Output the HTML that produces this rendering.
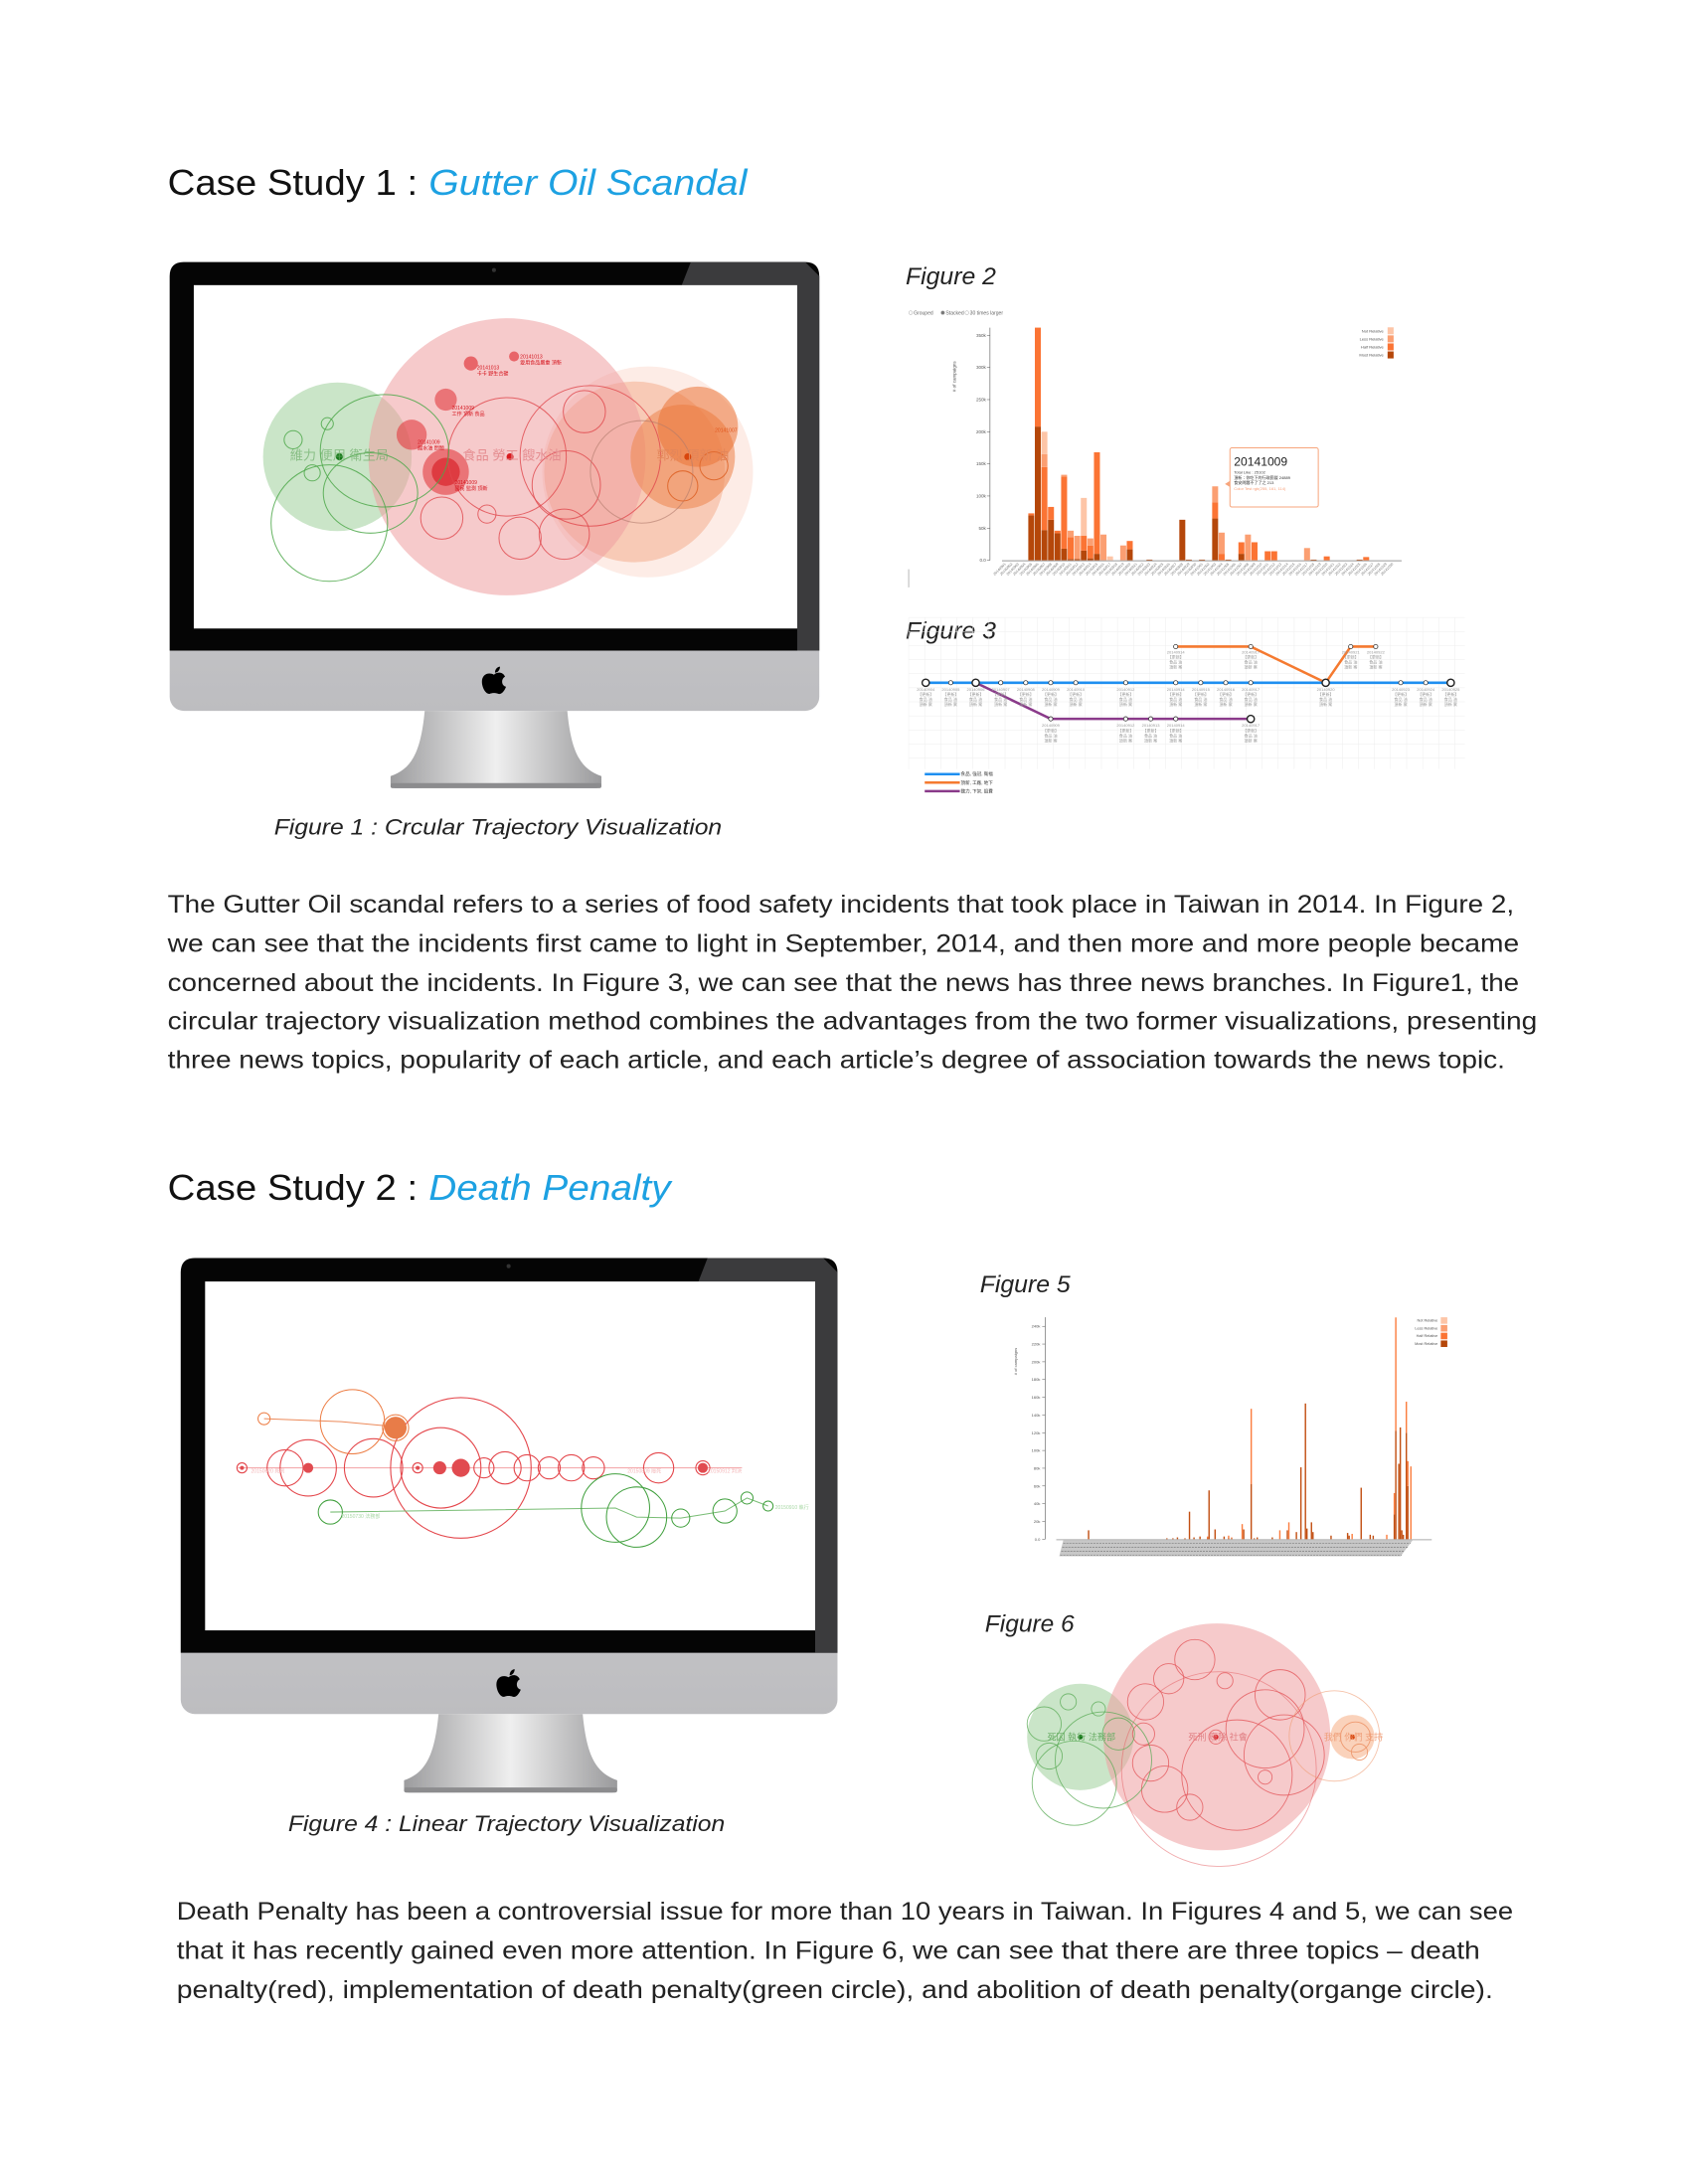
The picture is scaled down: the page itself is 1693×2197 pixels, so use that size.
<!DOCTYPE html>
<html><head><meta charset="utf-8"><title>Case Studies</title>
<style>
html,body{margin:0;padding:0;background:#fff;}
svg{display:block;}
text{font-family:"Liberation Sans","Noto Sans CJK TC",sans-serif;}
</style></head>
<body>
<svg id="page" xmlns="http://www.w3.org/2000/svg" width="1693" height="2197" viewBox="0 0 1693 2197">
<defs>
<linearGradient id="chinG" x1="0" y1="0" x2="0" y2="1"><stop offset="0" stop-color="#d9d9db"/><stop offset="1" stop-color="#bdbdc0"/></linearGradient>
<linearGradient id="standG" x1="0" y1="0" x2="1" y2="0"><stop offset="0" stop-color="#9c9c9e"/><stop offset="0.5" stop-color="#efefef"/><stop offset="1" stop-color="#9a9a9c"/></linearGradient>
</defs>
<g transform="scale(1.01)">

<!-- Headings -->
<text x="167" y="194" font-size="36" fill="#111" textLength="249" lengthAdjust="spacingAndGlyphs">Case Study 1 :</text>
<text x="427" y="194" font-size="36" font-style="italic" fill="#1da1e2" textLength="317" lengthAdjust="spacingAndGlyphs">Gutter Oil Scandal</text>
<text x="167" y="1195" font-size="36" fill="#111" textLength="249" lengthAdjust="spacingAndGlyphs">Case Study 2 :</text>
<text x="427" y="1195" font-size="36" font-style="italic" fill="#1da1e2" textLength="241" lengthAdjust="spacingAndGlyphs">Death Penalty</text>

<!-- Monitor 1 -->
<g transform="translate(169,261)">
  <rect x="0" y="0" width="647" height="447" rx="14" fill="url(#chinG)"/>
  <path d="M0,387 L0,14 Q0,0 14,0 L633,0 Q647,0 647,14 L647,387 Z" fill="#050505"/>
  <polygon points="519,0 633,0 647,14 647,387 625,387 625,23 510,23" fill="#3b3b3d"/>
  <circle cx="323" cy="8" r="2" fill="#333"/>
  <rect x="24" y="23" width="601" height="342" fill="#fff"/>
  <path transform="translate(323,416)" d="M0,-5 C3,-8 9,-8 11,-3 C7,-1 7,6 12,7 C10,12 7,15 4,14 C2,13 -2,13 -4,14 C-8,15 -12,8 -12,2 C-12,-5 -6,-8 0,-5 Z M1,-7 C1,-11 4,-13 6,-13 C6,-10 4,-7 1,-7 Z" fill="#000"/>
  <path d="M254,447 L396,447 C400,490 410,505 430,512 L430,520 Q430,524 425,524 L225,524 Q220,524 220,520 L220,512 C240,505 250,490 254,447 Z" fill="url(#standG)"/>
  <rect x="220" y="519" width="210" height="5" rx="2" fill="#8c8c8e"/>
</g>

<!-- Figure 1 circles -->
<g>
  <circle cx="336" cy="455" r="74" fill="#9fd09a" fill-opacity="0.55"/>
  <circle cx="645" cy="470" r="105" fill="#f9c9b8" fill-opacity="0.35"/>
  <circle cx="632" cy="470" r="90" fill="#f2a27d" fill-opacity="0.45"/>
  <circle cx="505" cy="455" r="138" fill="#ee9ea1" fill-opacity="0.55"/>
  <circle cx="680" cy="455" r="52" fill="#ef8a55" fill-opacity="0.6"/>
  <circle cx="695" cy="425" r="40" fill="#eb7436" fill-opacity="0.55"/>
  <circle cx="444" cy="470" r="23" fill="#e23a3f" fill-opacity="0.6"/>
  <circle cx="444" cy="470" r="14" fill="#d9242b" fill-opacity="0.7"/>
  <circle cx="410" cy="433" r="15" fill="#e23a3f" fill-opacity="0.6"/>
  <circle cx="444" cy="398" r="11" fill="#e23a3f" fill-opacity="0.6"/>
  <circle cx="469" cy="362" r="7" fill="#e23a3f" fill-opacity="0.7"/>
  <circle cx="512" cy="355" r="5" fill="#e23a3f" fill-opacity="0.7"/>
  <g fill="none" stroke="#e0474c" stroke-width="1" stroke-opacity="0.8">
    <circle cx="505" cy="455" r="59"/>
    <circle cx="588" cy="454" r="70"/>
    <circle cx="582" cy="410" r="21"/>
    <circle cx="564" cy="483" r="34"/>
    <circle cx="440" cy="516" r="21"/>
    <circle cx="485" cy="512" r="9"/>
    <circle cx="518" cy="536" r="21"/>
    <circle cx="562" cy="532" r="25"/>
  </g>
  <circle cx="639" cy="470" r="51" fill="none" stroke="#b07a6a" stroke-opacity="0.6"/>
  <circle cx="680" cy="484" r="15" fill="none" stroke="#e06a30"/>
  <circle cx="711" cy="464" r="14" fill="none" stroke="#e06a30"/>
  <g fill="none" stroke="#4ea84a" stroke-width="1" stroke-opacity="0.85">
    <ellipse cx="383" cy="449" rx="64" ry="56"/>
    <circle cx="328" cy="521" r="58"/>
    <ellipse cx="369" cy="491" rx="47" ry="40"/>
    <circle cx="311" cy="471" r="8"/>
    <circle cx="292" cy="438" r="9"/>
    <circle cx="326" cy="422" r="6"/>
  </g>
  <circle cx="338" cy="455" r="3.5" fill="#17791a"/>
  <circle cx="508" cy="455" r="3.5" fill="#d91a1f"/>
  <circle cx="685" cy="455" r="3.5" fill="#d8460d"/>
  <text x="338" y="458" font-size="13" fill="#6cae68" fill-opacity="0.7" text-anchor="middle">維力 便用 衛生局</text>
  <text x="510" y="458" font-size="13" fill="#e58d90" text-anchor="middle">食品 勞工 餿水油</text>
  <text x="690" y="458" font-size="13" fill="#e3865a" text-anchor="middle">郭烈 頂新 油</text>
  <g font-size="5" fill="#d4111a">
    <text x="475" y="368">20141013</text>
    <text x="475" y="374">卡卡 野生合碳</text>
    <text x="518" y="357">20141013</text>
    <text x="518" y="363">愛用食品嚴重 頂新</text>
    <text x="450" y="408">20141009</text>
    <text x="450" y="414">工作 頂新 食品</text>
    <text x="416" y="442">20141009</text>
    <text x="416" y="448">餿水油 問題</text>
    <text x="453" y="482">20141009</text>
    <text x="453" y="488">國民 監測 頂新</text>
    <text x="712" y="430" fill="#e0541b">20141007</text>
  </g>
</g>

<text x="273" y="831" font-size="22" font-style="italic" fill="#222" textLength="446" lengthAdjust="spacingAndGlyphs">Figure 1 : Crcular Trajectory Visualization</text>

<!-- Figure 2 -->
<text x="902" y="283" font-size="24" font-style="italic" fill="#222" textLength="90" lengthAdjust="spacingAndGlyphs">Figure 2</text>
<g id="fig2" transform="translate(-8,0)"></g>
<!-- Figure 3 -->
<text x="902" y="636" font-size="24" font-style="italic" fill="#222" textLength="90" lengthAdjust="spacingAndGlyphs">Figure 3</text>
<g id="fig3" transform="translate(-8,0)"></g>

<!-- Paragraph 1 -->
<g font-size="25" fill="#222">
<text x="167" y="909" textLength="1341" lengthAdjust="spacingAndGlyphs">The Gutter Oil scandal refers to a series of food safety incidents that took place in Taiwan in 2014. In Figure 2,</text>
<text x="167" y="948" textLength="1346" lengthAdjust="spacingAndGlyphs">we can see that the incidents first came to light in September, 2014, and then more and more people became</text>
<text x="167" y="987" textLength="1346" lengthAdjust="spacingAndGlyphs">concerned about the incidents. In Figure 3, we can see that the news has three news branches. In Figure1, the</text>
<text x="167" y="1025" textLength="1364" lengthAdjust="spacingAndGlyphs">circular trajectory visualization method combines the advantages from the two former visualizations, presenting</text>
<text x="167" y="1064" textLength="1332" lengthAdjust="spacingAndGlyphs">three news topics, popularity of each article, and each article’s degree of association towards the news topic.</text>
</g>

<!-- Monitor 2 -->
<g transform="translate(180,1253) scale(1.011,1.016)">
  <rect x="0" y="0" width="647" height="447" rx="14" fill="url(#chinG)"/>
  <path d="M0,387 L0,14 Q0,0 14,0 L633,0 Q647,0 647,14 L647,387 Z" fill="#050505"/>
  <polygon points="519,0 633,0 647,14 647,387 625,387 625,23 510,23" fill="#3b3b3d"/>
  <circle cx="323" cy="8" r="2" fill="#333"/>
  <rect x="24" y="23" width="601" height="342" fill="#fff"/>
  <path transform="translate(323,416)" d="M0,-5 C3,-8 9,-8 11,-3 C7,-1 7,6 12,7 C10,12 7,15 4,14 C2,13 -2,13 -4,14 C-8,15 -12,8 -12,2 C-12,-5 -6,-8 0,-5 Z M1,-7 C1,-11 4,-13 6,-13 C6,-10 4,-7 1,-7 Z" fill="#000"/>
  <path d="M254,447 L396,447 C400,490 410,505 430,512 L430,520 Q430,524 425,524 L225,524 Q220,524 220,520 L220,512 C240,505 250,490 254,447 Z" fill="url(#standG)"/>
  <rect x="220" y="519" width="210" height="5" rx="2" fill="#8c8c8e"/>
</g>

<!-- Figure 4 linear trajectory -->
<g fill="none">
  <line x1="237" y1="1462" x2="739" y2="1462" stroke="#f2a0a3" stroke-width="1"/>
  <g stroke="#e4474c" stroke-width="1.1">
    <circle cx="241" cy="1462" r="5"/>
    <circle cx="284" cy="1462" r="18"/>
    <circle cx="307" cy="1462" r="28"/>
    <circle cx="372" cy="1462" r="29"/>
    <circle cx="416" cy="1462" r="5"/>
    <circle cx="439" cy="1462" r="40"/>
    <circle cx="459" cy="1462" r="70"/>
    <circle cx="482" cy="1462" r="10"/>
    <circle cx="503" cy="1462" r="16"/>
    <circle cx="525" cy="1462" r="13"/>
    <circle cx="547" cy="1462" r="11"/>
    <circle cx="569" cy="1462" r="13"/>
    <circle cx="591" cy="1462" r="11"/>
    <circle cx="656" cy="1462" r="15"/>
    <circle cx="700" cy="1462" r="7"/>
  </g>
  <g fill="#e14b50">
    <circle cx="241" cy="1462" r="2"/>
    <circle cx="307" cy="1462" r="5"/>
    <circle cx="438" cy="1462" r="6.5"/>
    <circle cx="459" cy="1462" r="9"/>
    <circle cx="700" cy="1462" r="5"/>
    <circle cx="416" cy="1462" r="2"/>
  </g>
  <path d="M263,1413 L340,1416 L394,1421" stroke="#ec8a5a" stroke-width="1"/>
  <circle cx="263" cy="1413" r="6" stroke="#ec7a40"/>
  <circle cx="351" cy="1416" r="32" stroke="#ec7a40"/>
  <circle cx="394" cy="1422" r="13" stroke="#ec7a40"/>
  <circle cx="394" cy="1422" r="11" fill="#e87c48"/>
  <path d="M329,1506 L613,1502 L634,1511 L678,1512 L722,1505 L744,1492 L765,1500" stroke="#79bd75" stroke-width="1"/>
  <g stroke="#3f9f3c" stroke-width="1">
    <circle cx="329" cy="1506" r="12"/>
    <circle cx="613" cy="1502" r="34"/>
    <circle cx="634" cy="1511" r="30"/>
    <circle cx="678" cy="1512" r="9"/>
    <circle cx="722" cy="1505" r="12"/>
    <circle cx="744" cy="1492" r="6"/>
    <circle cx="765" cy="1500" r="5"/>
  </g>
  <g font-size="5" stroke="none">
    <text x="250" y="1467" fill="#f3b6b8">20150620 死刑</text>
    <text x="625" y="1467" fill="#f3b6b8">20150809 廢死</text>
    <text x="705" y="1467" fill="#f3b6b8">20150912 判決</text>
    <text x="772" y="1503" fill="#a9d8a6">20150910 執行</text>
    <text x="340" y="1512" fill="#a9d8a6">20150730 法務部</text>
  </g>
</g>
<text x="287" y="1824" font-size="22" font-style="italic" fill="#222" textLength="435" lengthAdjust="spacingAndGlyphs">Figure 4 : Linear Trajectory Visualization</text>

<!-- Figure 5 -->
<text x="976" y="1287" font-size="24" font-style="italic" fill="#222" textLength="90" lengthAdjust="spacingAndGlyphs">Figure 5</text>
<g id="fig5" transform="translate(-13,-4)"></g>

<!-- Figure 6 -->
<text x="981" y="1625" font-size="24" font-style="italic" fill="#222" textLength="89" lengthAdjust="spacingAndGlyphs">Figure 6</text>
<g fill="none" transform="translate(-13,-10)">
  <circle cx="1089" cy="1740" r="53" fill="#9fd09a" fill-opacity="0.55"/>
  <circle cx="1225" cy="1740" r="113" fill="#ee9ea1" fill-opacity="0.55"/>
  <circle cx="1360" cy="1740" r="22" fill="#f6b48e" fill-opacity="0.6"/>
  <g stroke="#e4575b" stroke-width="0.9" stroke-opacity="0.8">
    <circle cx="1203" cy="1663" r="20"/>
    <circle cx="1177" cy="1682" r="15"/>
    <circle cx="1233" cy="1684" r="8"/>
    <circle cx="1154" cy="1705" r="18"/>
    <circle cx="1152" cy="1737" r="11"/>
    <circle cx="1159" cy="1766" r="18"/>
    <circle cx="1173" cy="1792" r="23"/>
    <circle cx="1198" cy="1810" r="13"/>
    <circle cx="1224" cy="1740" r="7"/>
    <circle cx="1288" cy="1698" r="25"/>
    <circle cx="1273" cy="1732" r="39"/>
    <circle cx="1292" cy="1758" r="40"/>
    <circle cx="1245" cy="1778" r="55"/>
    <circle cx="1273" cy="1780" r="7"/>
    <circle cx="1227" cy="1772" r="97" stroke-opacity="0.5"/>
  </g>
  <g stroke="#ee9a70" stroke-width="0.9">
    <circle cx="1342" cy="1739" r="45" stroke-opacity="0.6"/>
    <circle cx="1367" cy="1755" r="8"/>
    <circle cx="1363" cy="1740" r="15"/>
  </g>
  <g stroke="#56a852" stroke-width="0.9" stroke-opacity="0.75">
    <circle cx="1077" cy="1705" r="8"/>
    <circle cx="1107" cy="1712" r="7"/>
    <circle cx="1053" cy="1727" r="17"/>
    <circle cx="1127" cy="1737" r="16"/>
    <circle cx="1058" cy="1759" r="13"/>
    <circle cx="1083" cy="1786" r="42"/>
    <circle cx="1112" cy="1763" r="48"/>
  </g>
  <circle cx="1089" cy="1740" r="2.5" fill="#17791a"/>
  <circle cx="1224" cy="1740" r="2.5" fill="#d91a1f"/>
  <circle cx="1360" cy="1740" r="2.5" fill="#d8460d"/>
  <text x="1090" y="1743" font-size="9" fill="#6cae68" text-anchor="middle">死囚 執行 法務部</text>
  <text x="1226" y="1743" font-size="9" fill="#e07f83" text-anchor="middle">死刑 廢除 社會</text>
  <text x="1361" y="1743" font-size="9" fill="#ef9e78" text-anchor="middle">我們 你們 支持</text>
</g>

<!-- Paragraph 2 -->
<g font-size="25" fill="#222">
<text x="176" y="1912" textLength="1331" lengthAdjust="spacingAndGlyphs">Death Penalty has been a controversial issue for more than 10 years in Taiwan. In Figures 4 and 5, we can see</text>
<text x="176" y="1951" textLength="1298" lengthAdjust="spacingAndGlyphs">that it has recently gained even more attention. In Figure 6, we can see that there are three topics – death</text>
<text x="176" y="1990" textLength="1311" lengthAdjust="spacingAndGlyphs">penalty(red), implementation of death penalty(green circle), and abolition of death penalty(organge circle).</text>
</g>
</g>
</svg>

<script>
// ---------- Figure 2 data (values in thousands) ----------
const fig2Most = [0,0,0,0,70,208,47,63,42,18, 2,2,15,3,10,0,0,0,0,17, 0,0,1,0,0,0,0,63,1,0, 1,0,65,0,1,0,10,0,0,0, 0,0,0,0,0,0,0,1,0,0, 0,0,0,0,1,0,0,0,0,0];
const fig2Half = [0,0,0,0,3,154,98,20,4,112, 34,0,23,20,158,0,0,0,0,13, 0,0,0,0,0,0,0,0,0,0, 0,0,25,10,0,0,18,0,28,0, 14,14,0,0,0,0,0,0,0,6, 0,0,0,0,0,5,0,0,0,0];
const fig2Less = [0,0,0,0,0,0,20,0,0,3, 10,36,0,11,0,40,0,0,23,0, 0,0,0,0,0,0,0,0,0,0, 0,0,25,33,0,0,0,40,0,0, 0,0,0,0,0,0,19,0,0,0, 0,0,0,0,0,0,0,0,0,0];
const fig2Not  = [0,0,0,0,0,0,35,0,0,0, 0,0,59,0,0,0,6,0,0,0, 0,0,0,0,0,0,0,0,0,0, 0,0,0,0,0,0,0,0,0,0, 0,0,0,0,0,0,0,0,0,0, 0,0,0,0,0,0,0,0,0,0];
const fig2Ticks = [0,50,100,150,200,250,300,350];
const fig2TickLabels = ['0.0','50k','100k','150k','200k','250k','300k','350k'];
const fig2Legend = ['Not Relative','Less Relative','Half Relative','Most Relative'];
const fig2Categories = ['20140901','20140902','20140903','20140904','20140905','20140906','20140907','20140908','20140909','20140910','20140911','20140912','20140913','20140914','20140915','20140916','20140917','20140918','20140919','20140920','20140921','20140922','20140923','20140924','20140925','20140926','20140927','20140928','20140929','20140930','20141001','20141002','20141003','20141004','20141005','20141006','20141007','20141008','20141009','20141010','20141011','20141012','20141013','20141014','20141015','20141016','20141017','20141018','20141019','20141020','20141021','20141022','20141023','20141024','20141025','20141026','20141027','20141028','20141029','20141030'];

// ---------- Figure 3 data ----------
const fig3BlueNodes = [0,1,2,3,4,5,6,8,10,11,12,13,16,19,20,21];
const fig3OrangeNodes = [10,13,16,17,18];
const fig3OrangeLevels = [1,1,0,1,1];
const fig3PurpleNodes = [2,5,8,9,10,13];
const fig3PurpleLevels = [0,-1,-1,-1,-1,-1];
const fig3BigNodes = [0,2,16,21];
const fig3Legend = ['食品, 強冠, 衛福','頂新, 工廠, 地下','魏力, 下架, 退費'];

// ---------- Figure 5 data (values in thousands) ----------
const fig5Index = [21,73,77,80,85,88,91,95,100,101,105,111,114,116,123,124,129,131,133,143,148,153,154,159,162,165,166,169,170,182,193,194,196,202,208,210,219,224,225,227,228,229,230,232,233,235];
const fig5Most = [10,1,1,2,1,31,2,3,1,55,11,3,1,1,0,11,62,1,2,2,0,10,0,8,81,153,12,19,8,4,7,4,0,58,5,4,0,28,122,85,126,10,5,120,60,0];
const fig5Rest = [0,0,0,0,0,0,0,0,2,0,0,0,3,1,17,0,85,0,0,0,10,0,19,0,0,0,0,0,0,0,0,0,6,0,0,0,5,24,128,0,0,0,0,35,28,82];
const fig5Ticks = [0,20,40,60,80,100,120,140,160,180,200,220,240];

const NS = 'http://www.w3.org/2000/svg';
function mk(tag, attrs, parent){const e=document.createElementNS(NS,tag);for(const k in attrs)e.setAttribute(k,attrs[k]);parent.appendChild(e);return e;}

// ===== Figure 2 =====
(function(){
  const g = document.getElementById('fig2');
  const x0 = 1006, step = 6.54, base = 558, kPer = 32/50;
  const xS = i => x0 + i*step;
  const yS = v => base - v*kPer;
  const colors = ['#b5470a','#fb7434','#fb9f72','#fdc5a7'];
  const series = [fig2Most, fig2Half, fig2Less, fig2Not];
  const radios = ['Grouped','Stacked','30 times larger'];
  let rx = 915;
  radios.forEach((r,i)=>{
    const c = mk('circle',{cx:rx,cy:311.5,r:1.8,fill:i==1?'#777':'none',stroke:'#aaa','stroke-width':0.5},g);
    
    
    const t = mk('text',{x:rx+3,y:313.5,'font-size':5,fill:'#666'},g);
    
    
    t.textContent = r; rx += [32,24,40][i];
  });
  const ax = mk('line',{x1:994,y1:yS(362),x2:994,y2:base,stroke:'#555','stroke-width':0.6},g);
  
  
  const xa = mk('line',{x1:1006,y1:base+0.5,x2:1404,y2:base+0.5,stroke:'#999','stroke-width':1},g);
  
  
  const side = mk('line',{x1:913,y1:567,x2:913,y2:585,stroke:'#888','stroke-width':0.6},g);
  
  
  fig2Ticks.forEach((v,i)=>{
    const tk = mk('line',{x1:991,y1:yS(v),x2:994,y2:yS(v),stroke:'#555','stroke-width':0.5},g);
    
    
    const tl = mk('text',{x:990,y:yS(v)+1.5,'font-size':4.5,fill:'#555','text-anchor':'end'},g);
    
    
    tl.textContent = fig2TickLabels[i];
  });
  const yt = mk('text',{x:0,y:0,'font-size':4.5,fill:'#555','text-anchor':'middle',transform:'translate(960,375) rotate(-90)'},g);
  
  
  yt.textContent = '# of campaigns';
  fig2Categories.forEach((c,i)=>{
    let acc = 0;
    series.forEach((s,k)=>{
      const v = s[i]; if(!v) return;
      const r = mk('rect',{x:xS(i),y:yS(acc+v),width:step-0.6,height:v*kPer,fill:colors[k]},g);
      
      
      acc += v;
    });
    const lab = mk('text',{x:0,y:0,'font-size':3.6,fill:'#777','text-anchor':'end',transform:`translate(${xS(i)+4},${base+4}) rotate(-45)`},g);
    
    
    lab.textContent = c;
  });
  fig2Legend.forEach((l,i)=>{
    const y = 326 + i*8;
    const sw = mk('rect',{x:1390,y:y,width:6,height:7,fill:colors[3-i]},g);
    
    
    const t = mk('text',{x:1386,y:y+5,'font-size':4,fill:'#555','text-anchor':'end'},g);
    
    
    t.textContent = l;
  });
  const tip = mk('rect',{x:1233,y:446,width:88,height:59,rx:2,fill:'#fff',stroke:'#f7a57c','stroke-width':1},g);
  
  
  const arrow = mk('polygon',{points:'1233,479 1228,482 1233,485',fill:'#f7a57c'},g);
  
  
  const tlines = [['20141009',12,'#222',464],['Total Like : 25102',4,'#444',472],['頂新：你吃下的行政罰鍰 24889',4,'#333',477],['食安問題不了了之 213',4,'#333',482],['Color Test rgb(255, 161, 114)',4,'#f9a07a',488]];
  tlines.forEach(l=>{
    const t = mk('text',{x:1237,y:l[3],'font-size':l[1],fill:l[2]},g);
    
    
    t.textContent = l[0];
  });
})();

// ===== Figure 3 =====
(function(){
  const g = document.getElementById('fig3');
  const xS = t => 930 + t*24.9;
  const yS = lvl => 680 - lvl*36;
  for(let x=913;x<=1467;x+=16){
    const l = mk('line',{x1:x,y1:615,x2:x,y2:766,stroke:'#eee','stroke-width':0.5},g);
    
    
  }
  for(let y=615;y<=766;y+=14){
    const l = mk('line',{x1:913,y1:y,x2:1467,y2:y,stroke:'#eee','stroke-width':0.5},g);
    
    
  }
  function line(nodes, levels, color, name){
    const pts = nodes.map((t,i)=>xS(t)+','+yS(levels[i])).join(' ');
    const p = mk('polyline',{points:pts,fill:'none',stroke:color,'stroke-width':2.5},g);
    
    
  }
  line(fig3PurpleNodes, fig3PurpleLevels, '#8a3a8a', 'purple-branch');
  line(fig3OrangeNodes, fig3OrangeLevels, '#f57a30', 'orange-branch');
  line(fig3BlueNodes, fig3BlueNodes.map(()=>0), '#1e8ff0', 'blue-branch');
  function nodes(list, levels, labelDy){
    list.forEach((t,i)=>{
      const big = fig3BigNodes.includes(t) && levels[i]===0 || (levels[i]===-1 && i===list.length-1);
      const c = mk('circle',{cx:xS(t),cy:yS(levels[i]),r:big?3.6:2.1,fill:'#fff',stroke:'#222','stroke-width':big?1.4:0.7},g);
      
      
      if(levels[i]!==0 || labelDy){
        const ty = yS(levels[i]) + (levels[i]===1 ? 7 : 8);
        const lines = ['201409'+String(t+4).padStart(2,'0'),'【更新】','食品 油','頂新 案'];
        lines.forEach((s,k)=>{
          const tx = mk('text',{x:xS(t),y:ty+k*5,'font-size':4,fill:'#999','text-anchor':'middle'},g);
          
          
          tx.textContent = s;
        });
      }
    });
  }
  nodes(fig3BlueNodes, fig3BlueNodes.map(()=>0), true);
  nodes(fig3OrangeNodes.filter((t,i)=>fig3OrangeLevels[i]!==0), fig3OrangeLevels.filter(l=>l!==0), false);
  nodes(fig3PurpleNodes.filter((t,i)=>fig3PurpleLevels[i]!==0), fig3PurpleLevels.filter(l=>l!==0), false);
  const cols = ['#1e8ff0','#f57a30','#8a3a8a'];
  fig3Legend.forEach((l,i)=>{
    const y = 771 + i*8.5;
    const ln = mk('line',{x1:929,y1:y,x2:964,y2:y,stroke:cols[i],'stroke-width':2.5},g);
    
    
    const t = mk('text',{x:965,y:y+1.5,'font-size':4.5,fill:'#333'},g);
    
    
    t.textContent = l;
  });
})();

// ===== Figure 5 =====
(function(){
  const g = document.getElementById('fig5');
  const x0 = 1065, step = 1.5, base = 1537, per = 212/240;
  const xS = i => x0 + i*step;
  const yS = v => base - v*per;
  const ax = mk('line',{x1:1054,y1:1316,x2:1054,y2:base,stroke:'#555','stroke-width':0.6},g);
  
  
  const band = mk('polygon',{points:'1072,1538 1420,1538 1408,1554 1068,1554',fill:'#b4b4b4','fill-opacity':0.75},g);
  
  
  for(let k=0;k<4;k++){
    const tl = mk('line',{x1:1072-k,y1:1541+k*4,x2:1418-k*3,y2:1541+k*4,stroke:'#888','stroke-width':0.8,'stroke-dasharray':'2 1'},g);
    
    
  }
  const xa = mk('line',{x1:1065,y1:base+0.5,x2:1439,y2:base+0.5,stroke:'#aaa','stroke-width':1},g);
  
  
  fig5Ticks.forEach(v=>{
    const tk = mk('line',{x1:1051,y1:yS(v),x2:1054,y2:yS(v),stroke:'#555','stroke-width':0.5},g);
    
    
    const tl = mk('text',{x:1049,y:yS(v)+1.5,'font-size':4,fill:'#555','text-anchor':'end'},g);
    
    
    tl.textContent = v===0 ? '0.0' : v+'k';
  });
  const yt = mk('text',{x:0,y:0,'font-size':4,fill:'#555','text-anchor':'middle',transform:'translate(1026,1360) rotate(-90)'},g);
  
  
  yt.textContent = '# of campaigns';
  fig5Index.forEach((idx,i)=>{
    const m = fig5Most[i], r = fig5Rest[i];
    if(m){
      const b = mk('rect',{x:xS(idx),y:yS(m),width:1.4,height:m*per,fill:'#c24f12'},g);
      
      
    }
    if(r){
      const b = mk('rect',{x:xS(idx),y:yS(m+r),width:1.4,height:r*per,fill:'#fb7d3e'},g);
      
      
    }
  });
  const cols = ['#fdc5a7','#fb9f72','#fb7434','#b5470a'];
  fig2Legend.forEach((l,i)=>{
    const y = 1316 + i*7.7;
    const sw = mk('rect',{x:1448,y:y,width:6.5,height:6.5,fill:cols[i]},g);
    
    
    const t = mk('text',{x:1445,y:y+4.5,'font-size':3.8,fill:'#555','text-anchor':'end'},g);
    
    
    t.textContent = l;
  });
})();
</script>
</body></html>
